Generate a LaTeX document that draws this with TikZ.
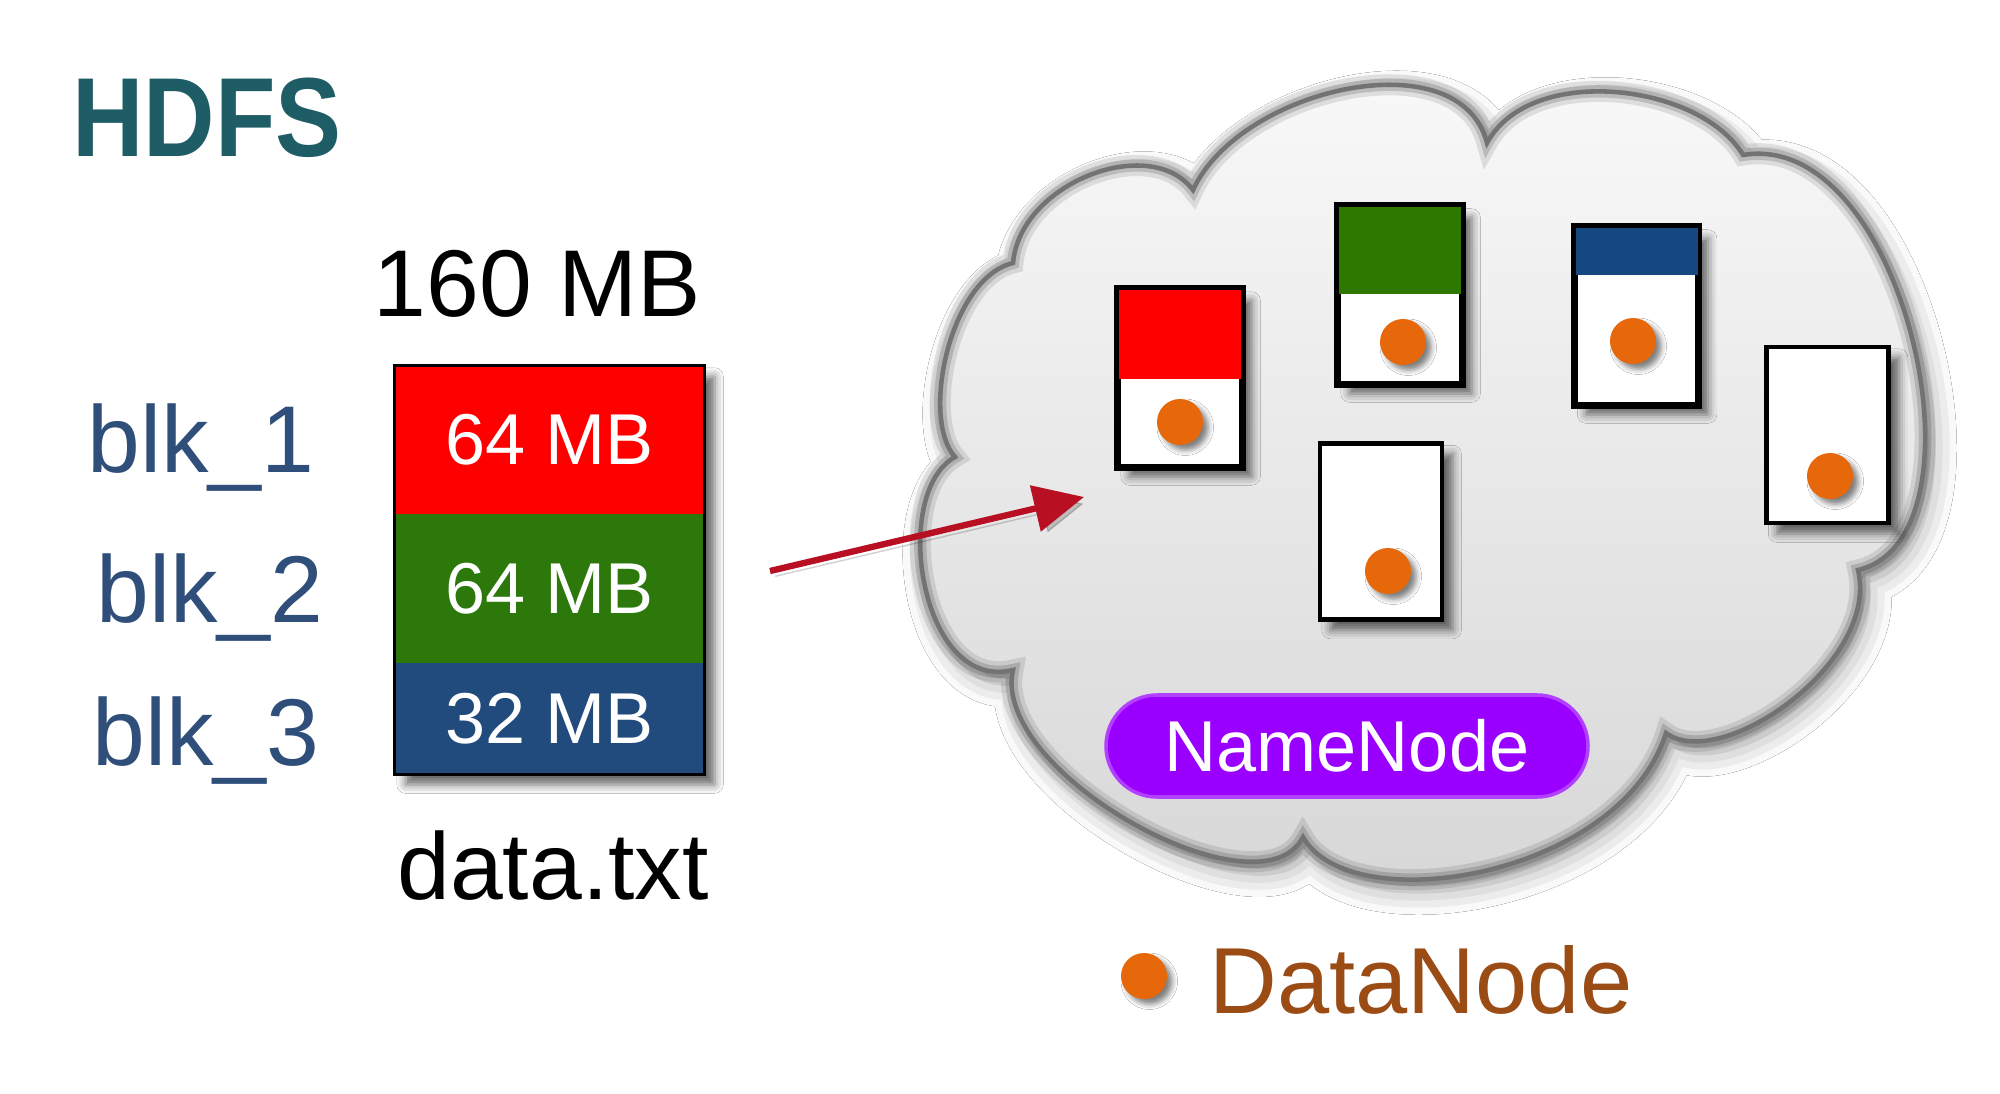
\documentclass[tikz,border=0pt]{standalone}
\usepackage{fontspec}
\usepackage{graphicx}
\setmainfont{Liberation Sans}
\usetikzlibrary{shadows.blur,arrows.meta,calc,shapes.misc}

\definecolor{hdfsteal}{RGB}{30,92,102}
\definecolor{blkblue}{RGB}{47,78,122}
\definecolor{stkred}{RGB}{255,0,0}
\definecolor{stkgreen}{RGB}{44,120,10}
\definecolor{stkblue}{RGB}{33,74,125}
\definecolor{cgreen}{RGB}{46,120,0}
\definecolor{cblue}{RGB}{22,73,130}
\definecolor{dotorange}{RGB}{230,104,10}
\definecolor{nnpurple}{RGB}{153,0,255}
\definecolor{dnbrown}{RGB}{155,75,20}
\definecolor{arrred}{RGB}{185,15,35}
\definecolor{cloudline}{RGB}{115,115,115}
\definecolor{cloudtop}{RGB}{250,250,250}
\definecolor{cloudbot}{RGB}{214,214,214}

\tikzset{
  dbox/.style={draw=black, line width=1.3pt, fill=white, minimum width=1.22cm,
    minimum height=1.76cm, inner sep=0,
    blur shadow={shadow xshift=3pt, shadow yshift=-3pt, shadow blur radius=2.5pt, shadow opacity=60}},
  ddot/.style={circle, fill=dotorange, minimum size=0.46cm, inner sep=0,
    blur shadow={shadow xshift=1.5pt, shadow yshift=-1.5pt, shadow blur radius=1.5pt, shadow opacity=50}},
  blk/.style={text=blkblue, font=\fontsize{27}{30}\selectfont, anchor=base west, inner sep=0},
  seg/.style={minimum width=3.09cm, inner sep=0, text=white, font=\fontsize{20.5}{24}\selectfont},
  bigtext/.style={font=\fontsize{27}{30}\selectfont, inner sep=0},
  boxline/.style={draw=black, line width=1.3pt},
}

\def\cloudpath{(9.55,6.36) .. controls (9.2,6.75) and (9.5,8.15) .. (10.13,8.30)
  .. controls (10.2,9.1) and (11.5,9.6) .. (11.93,9.03)
  .. controls (12.4,10.05) and (14.6,10.55) .. (14.87,9.50)
  .. controls (15.3,10.3) and (17.0,10.1) .. (17.43,9.38)
  .. controls (19.05,9.65) and (19.95,5.55) .. (18.58,5.23)
  .. controls (18.8,4.3) and (17.2,3.2) .. (16.66,3.60)
  .. controls (16.2,2.15) and (13.5,1.72) .. (13.03,2.56)
  .. controls (12.6,1.72) and (9.9,3.2) .. (10.13,4.23)
  .. controls (9.2,4.0) and (8.9,6.0) .. (9.55,6.36) -- cycle}

\begin{document}
\begin{tikzpicture}
\useasboundingbox (0,0) rectangle (20,10.93);
\fill[white] (0,0) rectangle (20,10.93);

% title
\node[font=\bfseries\fontsize{32}{36}\selectfont, text=hdfsteal, inner sep=0] (title) at (2.07,9.75) {\scalebox{0.88}[1]{HDFS}};

% file stack
\fill[white, blur shadow={shadow xshift=3pt, shadow yshift=-3pt, shadow blur radius=2.5pt, shadow opacity=60}] (3.95,3.19) rectangle (7.04,7.27);
\node[seg, fill=stkred, minimum height=1.48cm] (s1) at (5.495,6.53) {64 MB};
\node[seg, fill=stkgreen, minimum height=1.49cm] (s2) at (5.495,5.045) {64 MB};
\node[seg, fill=stkblue, minimum height=1.11cm] (s3) at (5.495,3.745) {32 MB};
\draw[black, line width=1pt] (s1.north west) rectangle (s3.south east);

\node[bigtext] (size) at (5.37,8.09) {160 MB};
\node[bigtext, anchor=base] (fname) at (5.53,1.94) {data.txt};

\node[blk] (blk1) at (0.87,6.21) {blk\_1};
\node[blk] (blk2) at (0.96,4.71) {blk\_2};
\node[blk] (blk3) at (0.92,3.28) {blk\_3};

% cloud
\fill[white, blur shadow={shadow xshift=2pt, shadow yshift=-3pt, shadow blur radius=7pt, shadow opacity=40}] \cloudpath;
\shade[top color=cloudtop, bottom color=cloudbot] \cloudpath;
\draw[black, opacity=0.10, line width=6pt] \cloudpath;
\draw[black, opacity=0.15, line width=3.5pt] \cloudpath;
\draw[cloudline, line width=1.3pt] \cloudpath;

% data nodes
\node[dbox] (b1) at (11.80,7.15) {};
\fill[stkred] (b1.north west) rectangle ($(b1.north east)+(0,-0.91)$);
\draw[boxline] (b1.north west) rectangle (b1.south east);

\node[dbox] (b2) at (14.00,7.98) {};
\fill[cgreen] (b2.north west) rectangle ($(b2.north east)+(0,-0.89)$);
\draw[boxline] (b2.north west) rectangle (b2.south east);

\node[dbox] (b3) at (16.365,7.77) {};
\fill[cblue] (b3.north west) rectangle ($(b3.north east)+(0,-0.49)$);
\draw[boxline] (b3.north west) rectangle (b3.south east);

\node[dbox] (b4) at (13.81,5.615) {};
\node[dbox] (b5) at (18.275,6.58) {};

\node[ddot] (d1) at (11.80,6.71) {};
\node[ddot] (d2) at (14.03,7.51) {};
\node[ddot] (d3) at (16.33,7.52) {};
\node[ddot] (d4) at (13.88,5.22) {};
\node[ddot] (d5) at (18.30,6.17) {};

% NameNode
\node[rounded rectangle, fill=nnpurple, draw=nnpurple!75!white, line width=1pt,
  minimum width=4.82cm, minimum height=1.02cm, inner sep=0, text=white,
  font=\fontsize{20.5}{24}\selectfont] (nn) at (13.47,3.47) {NameNode};

% arrow
\coordinate (arrS) at (7.70,5.22);
\coordinate (arrE) at (10.84,5.96);
\draw[arrred, line width=1.8pt, -{Triangle[length=0.5cm, width=0.46cm]},
  preaction={draw=black, opacity=0.18, transform canvas={xshift=1.5pt, yshift=-1.5pt}}] (arrS) -- (arrE);

% legend
\node[ddot] (ld) at (11.44,1.17) {};
\node[font=\fontsize{26.7}{30}\selectfont, text=dnbrown, anchor=west, inner sep=0] (lt) at (12.09,1.13) {DataNode};
\end{tikzpicture}
\end{document}
